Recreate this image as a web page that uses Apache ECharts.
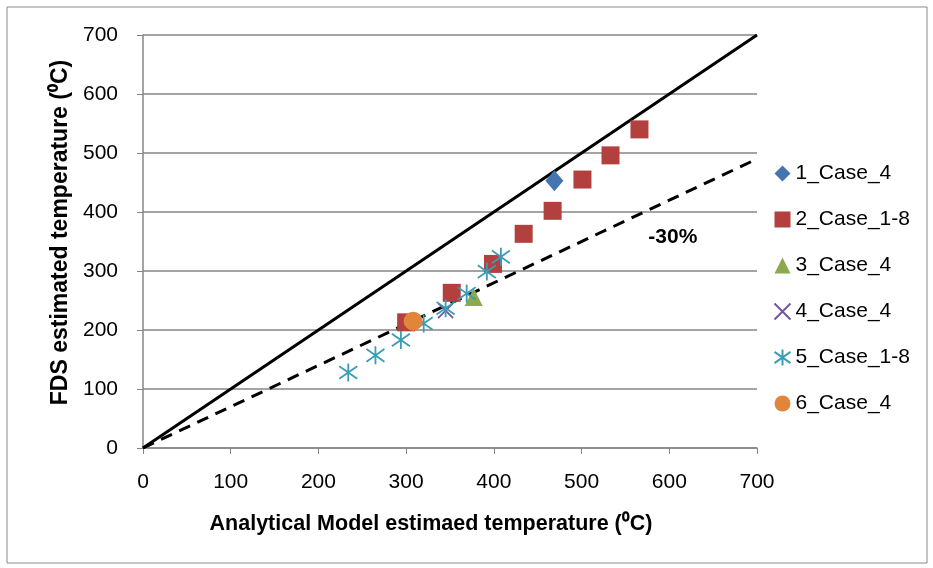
<!DOCTYPE html>
<html>
<head>
<meta charset="utf-8">
<script src="https://cdn.jsdelivr.net/npm/echarts@6/dist/echarts.min.js"></script>
<style>
  html, body { margin: 0; padding: 0; background: #fff; }
  #chart { width: 933px; height: 568px; }
</style>
</head>
<body>
<div id="chart"></div>
<script>
// values: [analytical, FDS]
var case1 = [[469, 453]]
var case2 = [[300, 213], [352, 263], [399, 312], [434, 363], [467, 402], [501, 455], [533, 496], [566, 540]]
var case3 = [[377, 256]]
var case4 = [[345, 233]]
var case5 = [[234, 128], [265, 157], [294, 183], [320, 211], [345, 237], [369, 262], [392, 299], [408, 324]]
var case6 = [[308, 215]]
var equalLine = [[0, 0], [700, 700]]
var minus30Line = [[0, 0], [700, 490]]
var minus30Label = [604, 357]
var seriesNames = ['1_Case_4', '2_Case_1-8', '3_Case_4', '4_Case_4', '5_Case_1-8', '6_Case_4']

var font = "'Liberation Sans', sans-serif"
var chart = echarts.init(document.getElementById('chart'))

var option = {
  animation: false,
  textStyle: { fontFamily: font },
  graphic: [{
    type: 'rect',
    shape: { x: 7, y: 7, width: 920, height: 556 },
    style: { fill: 'none', stroke: '#8c8c8c', lineWidth: 1 }
  }],
  grid: { left: 143, top: 35, right: 176, bottom: 120 },
  legend: {
    data: seriesNames,
    orient: 'vertical',
    left: 767,
    top: 158,
    itemGap: 25,
    itemWidth: 16,
    itemHeight: 16,
    textStyle: { fontSize: 21, color: '#000', fontFamily: font }
  },
  xAxis: {
    type: 'value',
    min: 0, max: 700, interval: 100,
    name: 'Analytical Model estimaed temperature (⁰C)',
    nameLocation: 'middle',
    nameGap: 65,
    nameTextStyle: { fontSize: 21.5, fontWeight: 'bold', color: '#000', fontFamily: font, padding: [0, 38, 0, 0] },
    axisLine: { show: true, lineStyle: { color: '#868686', width: 1.5 } },
    axisTick: { show: true, inside: false, length: 6, lineStyle: { color: '#868686' } },
    axisLabel: { fontSize: 21, color: '#000', margin: 24, fontFamily: font },
    splitLine: { show: false }
  },
  yAxis: {
    type: 'value',
    min: 0, max: 700, interval: 100,
    name: 'FDS estimated temperature (⁰C)',
    nameLocation: 'middle',
    nameGap: 64,
    nameTextStyle: { fontSize: 23, fontWeight: 'bold', color: '#000', fontFamily: font, padding: [0, 0, 0, 18] },
    axisLine: { show: true, lineStyle: { color: '#868686', width: 1.5 } },
    axisTick: { show: true, inside: false, length: 6, lineStyle: { color: '#868686' } },
    axisLabel: { fontSize: 21, color: '#000', margin: 25, fontFamily: font },
    splitLine: { show: true, lineStyle: { color: '#868686', width: 1.5 } }
  },
  series: [
    {
      name: 'equal',
      type: 'line',
      data: equalLine,
      symbol: 'none',
      lineStyle: { color: '#000', width: 3 },
      z: 1
    },
    {
      name: 'minus30',
      type: 'line',
      data: minus30Line,
      symbol: 'none',
      lineStyle: { color: '#000', width: 3, type: [12, 8] },
      z: 1,
      markPoint: {
        symbol: 'circle',
        symbolSize: 0,
        data: [{ coord: minus30Label }],
        label: {
          show: true,
          formatter: '-30%',
          fontSize: 21,
          fontWeight: 'bold',
          color: '#000',
          fontFamily: font
        }
      }
    },
    {
      name: seriesNames[0], type: 'scatter', data: case1,
      symbol: 'diamond', symbolSize: [18, 21],
      itemStyle: { color: '#4575B0', opacity: 1 }
    },
    {
      name: seriesNames[1], type: 'scatter', data: case2,
      symbol: 'rect', symbolSize: 18,
      itemStyle: { color: '#B2403F', opacity: 1 }
    },
    {
      name: seriesNames[2], type: 'scatter', data: case3,
      symbol: 'triangle', symbolSize: 18,
      itemStyle: { color: '#8CAA4D', opacity: 1 }
    },
    {
      name: seriesNames[3], type: 'scatter', data: case4,
      symbol: 'path://M0,0L10,10M0,10L10,0', symbolSize: 15,
      itemStyle: { color: 'none', borderColor: '#7257A0', borderWidth: 1.8, opacity: 1 }
    },
    {
      name: seriesNames[4], type: 'scatter', data: case5,
      symbol: 'path://M5,0L5,10M0,1.5L10,8.5M0,8.5L10,1.5', symbolSize: 18,
      itemStyle: { color: 'none', borderColor: '#3A9DB5', borderWidth: 1.8, opacity: 1 }
    },
    {
      name: seriesNames[5], type: 'scatter', data: case6,
      symbol: 'circle', symbolSize: 19,
      itemStyle: { color: '#E0853A', opacity: 1 }
    }
  ]
}

chart.setOption(option)
</script>
</body>
</html>
